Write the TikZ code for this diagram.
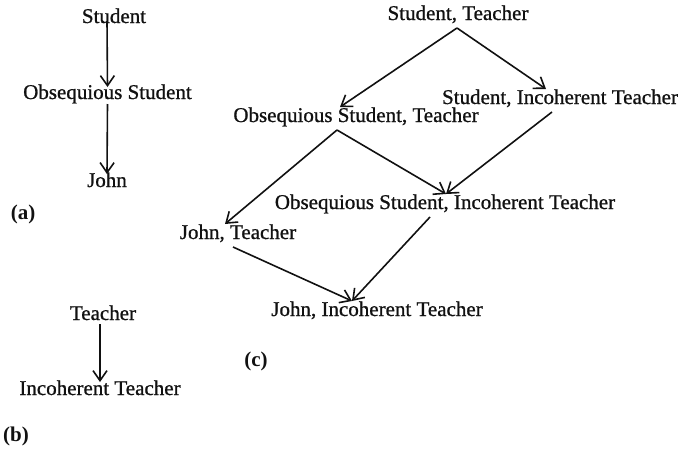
\documentclass[tikz,border=0pt]{standalone}
\usepackage{fontspec}
\setmainfont{Liberation Serif}
\newfontfamily\heavyserif{Liberation Serif}[FakeBold=0.9]
\usepackage{tikz}
\usetikzlibrary{arrows.meta}
\definecolor{ink}{HTML}{111111}
\tikzset{
  term/.style ={inner sep=0pt,outer sep=0pt,anchor=base,text=ink,
                text height=15pt,text depth=8pt,font=\heavyserif\fontsize{21}{25}\selectfont},
  tag/.style  ={term,font=\fontsize{21}{25}\selectfont\bfseries},
  flow/.style ={-{Straight Barb[length=10pt,width=14pt,line width=1.6pt]},
                line width=1.6pt,draw=ink}
}
\begin{document}
\begin{tikzpicture}[x=1pt,y=-1pt]
        \useasboundingbox (0,0) rectangle (696,450);
        % (a)
        \node[term] (stu) at (114,23) {Student};
        \node[term] (obs) at (107.5,99) {Obsequious Student};
        \node[term] (john) at (107,187) {John};
        \node[tag] (la) at (23,219) {(a)};
        \draw[flow] ([xshift=-7pt,yshift=2pt]stu.base) -- ([yshift=-3pt]obs.north);
        \draw[flow] ([yshift=3pt]obs.south) -- ([yshift=-2pt]john.north);
        % (b)
        \node[term] (tch) at (103,320) {Teacher};
        \node[term] (inc) at (100,395) {Incoherent Teacher};
        \node[tag] (lb) at (16,441) {(b)};
        \draw[flow] ([xshift=-3pt,yshift=4pt]tch.south) -- ([yshift=-2pt]inc.north);
        % (c)
        \node[term] (st) at (458,20) {Student, Teacher};
        \node[term] (ost) at (356,122) {Obsequious Student, Teacher};
        \node[term] (sit) at (560,104) {Student, Incoherent Teacher};
        \node[term] (osit) at (445,209) {Obsequious Student, Incoherent Teacher};
        \node[term] (jt) at (238,239) {John, Teacher};
        \node[term] (jit) at (377,316) {John, Incoherent Teacher};
        \node[tag] (lc) at (256,366) {(c)};
        \draw[flow] ([xshift=-1pt]st.south) -- ([xshift=-16pt]ost.north);
        \draw[flow] ([xshift=-1pt]st.south) -- ([xshift=-14pt]sit.north);
        \draw[flow] ([xshift=-8pt]sit.south) -- ([xshift=1pt]osit.north);
        \draw[flow] ([xshift=-19pt]ost.south) -- ([xshift=1pt]osit.north);
        \draw[flow] ([xshift=-19pt]ost.south) -- ([xshift=-13pt]jt.north);
        \draw[flow] ([xshift=-5pt]jt.south) -- ([xshift=-25pt]jit.north);
        \draw[flow] ([xshift=-15pt]osit.south) -- ([xshift=-25pt]jit.north);
      \end{tikzpicture}
\end{document}
